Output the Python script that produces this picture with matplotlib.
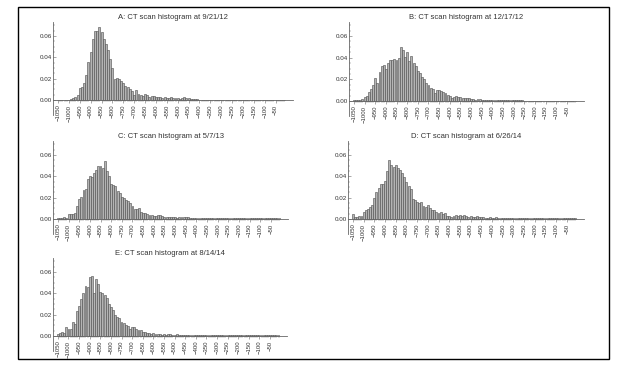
import matplotlib
matplotlib.use("Agg")
import matplotlib.pyplot as plt
import matplotlib.patches as patches
import numpy as np

# bin centres in HU, one bar each
bins = list(range(-1050, 0, 10))

titles = [
    "A: CT scan histogram at 9/21/12",
    "B: CT scan histogram at 12/17/12",
    "C: CT scan histogram at 5/7/13",
    "D: CT scan histogram at 6/26/14",
    "E: CT scan histogram at 8/14/14",
]

hist_a = [0, 0, 0, 0, 0, 0, 0.001, 0.0015, 0.003, 0.005,
          0.011, 0.012, 0.016, 0.023, 0.036, 0.045, 0.057, 0.065, 0.065, 0.068,
          0.064, 0.057, 0.052, 0.047, 0.038, 0.030, 0.020, 0.021, 0.020, 0.018,
          0.016, 0.013, 0.012, 0.010, 0.008, 0.005, 0.009, 0.006, 0.005, 0.004,
          0.006, 0.005, 0.003, 0.004, 0.004, 0.003, 0.003, 0.003, 0.002, 0.003,
          0.002, 0.002, 0.003, 0.002, 0.002, 0.002, 0.001, 0.002, 0.003, 0.002,
          0.002, 0.001, 0.001, 0.001, 0.001, 0, 0, 0, 0, 0,
          0, 0, 0, 0, 0, 0, 0, 0, 0, 0,
          0, 0, 0, 0, 0, 0, 0, 0, 0, 0,
          0, 0, 0, 0, 0, 0, 0, 0, 0, 0,
          0, 0, 0, 0, 0]

hist_b = [0.0005, 0.0005, 0.001, 0.001, 0.002, 0.004, 0.005, 0.008, 0.011, 0.015,
          0.021, 0.017, 0.027, 0.032, 0.033, 0.030, 0.035, 0.038, 0.038, 0.039,
          0.038, 0.040, 0.050, 0.047, 0.041, 0.045, 0.037, 0.042, 0.035, 0.032,
          0.028, 0.026, 0.022, 0.020, 0.017, 0.015, 0.012, 0.011, 0.007, 0.010,
          0.010, 0.009, 0.008, 0.007, 0.006, 0.005, 0.003, 0.004, 0.005, 0.004,
          0.004, 0.003, 0.003, 0.003, 0.003, 0.002, 0.002, 0.001, 0.002, 0.002,
          0.001, 0.001, 0.0005, 0.001, 0.001, 0.001, 0.001, 0.0005, 0.001, 0.001,
          0.001, 0.0005, 0.0005, 0.0005, 0.0005, 0.0005, 0.0005, 0.0005, 0.0005, 0.0005,
          0.0003, 0.0003, 0.0003, 0.0003, 0.0003, 0.0003, 0.0003, 0.0003, 0.0003, 0.0003,
          0.0003, 0.0003, 0.0003, 0.0003, 0.0003, 0.0003, 0.0003, 0.0003, 0.0003, 0.0003,
          0.0003, 0.0003, 0.0003, 0.0003, 0.0003]

hist_c = [0.001, 0.001, 0.001, 0.002, 0.001, 0.005, 0.005, 0.005, 0.006, 0.012,
          0.019, 0.021, 0.027, 0.028, 0.037, 0.040, 0.039, 0.043, 0.046, 0.050,
          0.050, 0.048, 0.054, 0.045, 0.040, 0.033, 0.032, 0.031, 0.026, 0.024,
          0.021, 0.020, 0.018, 0.017, 0.015, 0.012, 0.009, 0.009, 0.010, 0.007,
          0.006, 0.006, 0.005, 0.004, 0.004, 0.003, 0.003, 0.004, 0.004, 0.003,
          0.002, 0.002, 0.002, 0.002, 0.002, 0.002, 0.001, 0.002, 0.002, 0.002,
          0.002, 0.002, 0.001, 0.001, 0.001, 0.001, 0.001, 0.001, 0.001, 0.001,
          0.001, 0.001, 0.0005, 0.0005, 0.0005, 0.0005, 0.0005, 0.0005, 0.0005, 0.0005,
          0.0005, 0.0005, 0.0005, 0.0005, 0.0005, 0.0005, 0.0005, 0.0005, 0.0005, 0.0005,
          0.0005, 0.0005, 0.0005, 0.0005, 0.0005, 0.0005, 0.0005, 0.0005, 0.0005, 0.0005,
          0.0005, 0.0005, 0.0005, 0.0005, 0.0005]

hist_d = [0.005, 0.002, 0.002, 0.003, 0.003, 0.007, 0.008, 0.009, 0.011, 0.013,
          0.020, 0.025, 0.029, 0.033, 0.033, 0.036, 0.045, 0.055, 0.051, 0.049,
          0.051, 0.048, 0.046, 0.043, 0.039, 0.035, 0.031, 0.028, 0.019, 0.018,
          0.016, 0.015, 0.016, 0.012, 0.011, 0.013, 0.010, 0.008, 0.008, 0.007,
          0.006, 0.007, 0.005, 0.006, 0.003, 0.003, 0.002, 0.003, 0.004, 0.003,
          0.004, 0.003, 0.004, 0.003, 0.002, 0.003, 0.002, 0.002, 0.003, 0.002,
          0.002, 0.002, 0.001, 0.001, 0.002, 0.001, 0.001, 0.002, 0.001, 0.001,
          0.001, 0.001, 0.001, 0.001, 0.0005, 0.0005, 0.0005, 0.0005, 0.0005, 0.0005,
          0.0005, 0.0005, 0.0005, 0.0005, 0.0005, 0.0005, 0.0005, 0.0005, 0.0005, 0.0005,
          0.0005, 0.0005, 0.0005, 0.0005, 0.0005, 0.0005, 0.0005, 0.0005, 0.0005, 0.0005,
          0.0005, 0.0005, 0.0005, 0.0005, 0.0005]

hist_e = [0.002, 0.003, 0.004, 0.003, 0.008, 0.007, 0.007, 0.013, 0.011, 0.023,
          0.028, 0.035, 0.040, 0.047, 0.046, 0.055, 0.056, 0.040, 0.053, 0.049,
          0.041, 0.040, 0.038, 0.036, 0.030, 0.027, 0.024, 0.020, 0.018, 0.017,
          0.013, 0.012, 0.010, 0.009, 0.007, 0.008, 0.008, 0.007, 0.006, 0.006,
          0.004, 0.004, 0.003, 0.003, 0.002, 0.003, 0.002, 0.002, 0.002, 0.001,
          0.002, 0.001, 0.002, 0.002, 0.001, 0.001, 0.002, 0.001, 0.001, 0.001,
          0.001, 0.001, 0.0005, 0.001, 0.001, 0.0005, 0.001, 0.0005, 0.0005, 0.001,
          0.0005, 0.0005, 0.0005, 0.0005, 0.0005, 0.0005, 0.0005, 0.0005, 0.0005, 0.0005,
          0.0005, 0.0005, 0.0005, 0.0005, 0.0005, 0.0005, 0.0005, 0.0005, 0.0005, 0.0005,
          0.0005, 0.0005, 0.0005, 0.0005, 0.0005, 0.0005, 0.0005, 0.0005, 0.0005, 0.0005,
          0.0005, 0.0005, 0.0005, 0.0005, 0.0005]

series = [hist_a, hist_b, hist_c, hist_d, hist_e]

W, H = 619, 372
# pixel boxes: left, top, right, zero line
boxes = [(53, 22, 293, 100), (349, 22, 584, 101),
         (53, 141, 288, 219), (348, 141, 584, 219),
         (53, 258, 287, 336)]

plt.rcParams["font.family"] = ["Liberation Sans", "DejaVu Sans"]
fig = plt.figure(figsize=(W / 100, H / 100), dpi=100)

ytop, ybot = 0.073, -0.014
for (l, t, r, z), title, vals in zip(boxes, titles, series):
    px_per = (z - t) / ytop
    b = z + (-ybot) * px_per
    ax = fig.add_axes([l / W, 1 - b / H, (r - l) / W, (b - t) / H])
    x = np.arange(len(bins))
    ax.bar(x, vals, width=0.9, color="#b4b4b4", edgecolor="#4a4a4a", linewidth=0.4)
    ax.set_xlim(-2.3, len(bins) + 3)
    ax.set_ylim(ybot, ytop)
    for s in ["top", "right"]:
        ax.spines[s].set_visible(False)
    ax.spines["bottom"].set_position(("data", 0))
    for s in ["bottom", "left"]:
        ax.spines[s].set_color("#666666")
        ax.spines[s].set_linewidth(0.6)
    major = x[::5]
    ax.set_xticks(major)
    ax.set_xticklabels([("\u2212" + str(abs(bins[i]))) for i in major], rotation=90)
    ax.set_xticks(x, minor=True)
    ax.set_yticks([0, 0.02, 0.04, 0.06])
    ax.set_yticklabels(["0.00", "0.02", "0.04", "0.06"])
    ax.set_yticks(np.arange(0, 0.0725, 0.005), minor=True)
    ax.tick_params(axis="x", which="major", direction="out", length=2.5, width=0.4,
                   labelsize=4.3, pad=0.8, colors="#666666", labelcolor="#333333")
    ax.tick_params(axis="x", which="minor", direction="out", length=1.5, width=0.3,
                   colors="#666666")
    ax.tick_params(axis="y", which="major", direction="in", length=2.5, width=0.4,
                   labelsize=4.5, pad=1, colors="#666666", labelcolor="#333333")
    ax.tick_params(axis="y", which="minor", direction="in", length=1.3, width=0.3,
                   colors="#666666")
    ax.set_title(title, fontsize=5.5, color="#333333", pad=2)

fig.add_artist(patches.Rectangle((18 / W, 1 - 359 / H), (609 - 18) / W, (359 - 7) / H,
                                 transform=fig.transFigure, fill=False,
                                 edgecolor="black", linewidth=1))

fig.savefig("out.png", dpi=100)
